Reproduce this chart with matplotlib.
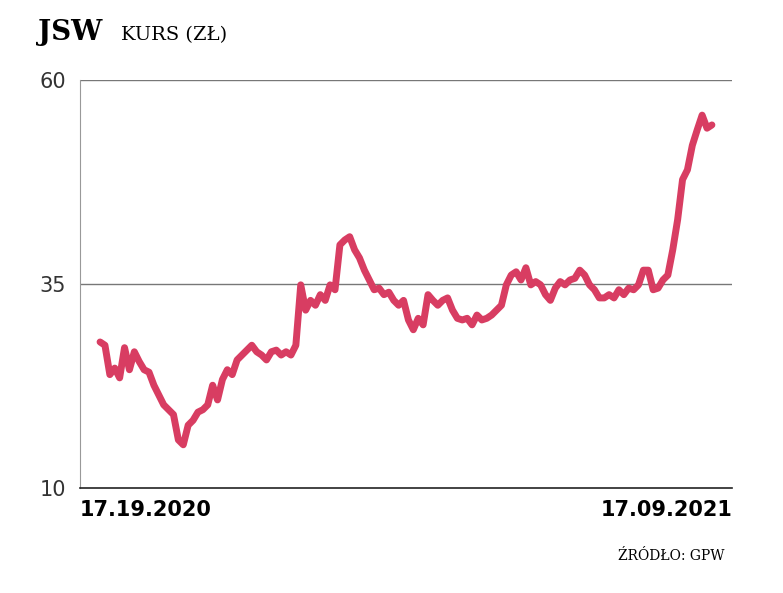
import numpy as np
import matplotlib
matplotlib.use('Agg')
import matplotlib.pyplot as plt

# share price, JSW (zl), evenly spaced over the year
prices = [27.9, 27.5, 23.9, 24.7, 23.5, 27.2, 24.5, 26.7, 25.5, 24.5, 24.2, 22.6, 21.4, 20.2,
          19.6, 19.0, 15.9, 15.3, 17.7, 18.3, 19.3, 19.6, 20.2, 22.6, 20.8, 23.3, 24.5, 23.9,
          25.7, 26.3, 26.9, 27.5, 26.7, 26.3, 25.7, 26.7, 26.9, 26.3, 26.7, 26.3, 27.5, 34.9,
          31.8, 33.0, 32.4, 33.7, 33.0, 34.9, 34.3, 39.8, 40.4, 40.8, 39.2, 38.2, 36.7, 35.5,
          34.3, 34.5, 33.7, 34.0, 33.0, 32.4, 33.0, 30.6, 29.4, 30.8, 30.0, 33.7, 33.0, 32.4,
          33.0, 33.3, 31.8, 30.8, 30.6, 30.8, 30.0, 31.2, 30.6, 30.8, 31.2, 31.8, 32.4, 34.9,
          36.1, 36.5, 35.5, 37.0, 34.9, 35.3, 34.9, 33.7, 33.0, 34.5, 35.3, 34.9, 35.5, 35.7,
          36.7, 36.1, 34.9, 34.3, 33.3, 33.3, 33.7, 33.3, 34.3, 33.7, 34.5, 34.3, 34.9, 36.7,
          36.7, 34.3, 34.5, 35.5, 36.1, 39.2, 42.9, 47.8, 49.0, 52.0, 53.9, 55.7, 54.1, 54.5]
y_ticks = [10, 35, 60]
x_labels = ['17.19.2020', '17.09.2021']

fig = plt.figure(figsize=(7.83, 5.93), dpi=100)
ax = fig.add_axes([0.102, 0.177, 0.833, 0.688])

x = np.arange(len(prices))
ax.plot(x, prices, color='#d83d62', linewidth=5, solid_capstyle='round', solid_joinstyle='round')

n = len(prices) - 1
ax.set_xlim(-0.033 * n, n + 0.033 * n)
ax.set_ylim(10, 60)
ax.set_yticks(y_ticks)
ax.set_yticklabels([str(t) for t in y_ticks], fontsize=15, color='#333333')
ax.tick_params(axis='y', length=0, pad=10)
for t in [35, 60]:
    ax.axhline(t, color='#777777', linewidth=1, zorder=0)
ax.set_xticks([])
ax.text(0, -0.03, x_labels[0], transform=ax.transAxes, ha='left', va='top',
        fontsize=15, fontweight='bold')
ax.text(1, -0.03, x_labels[1], transform=ax.transAxes, ha='right', va='top',
        fontsize=15, fontweight='bold')
for s in ['top', 'right']:
    ax.spines[s].set_visible(False)
ax.spines['left'].set_color('#999999')
ax.spines['bottom'].set_color('#222222')
ax.spines['bottom'].set_linewidth(1.2)

fig.text(0.048, 0.932, 'JSW', fontsize=20, fontweight='bold', fontfamily='DejaVu Serif')
fig.text(0.155, 0.932, 'KURS (ZŁ)', fontsize=14, fontfamily='DejaVu Serif')
fig.text(0.925, 0.055, 'ŹRÓDŁO: GPW', fontsize=10, fontfamily='DejaVu Serif', ha='right')

fig.savefig('out.png', dpi=100)
